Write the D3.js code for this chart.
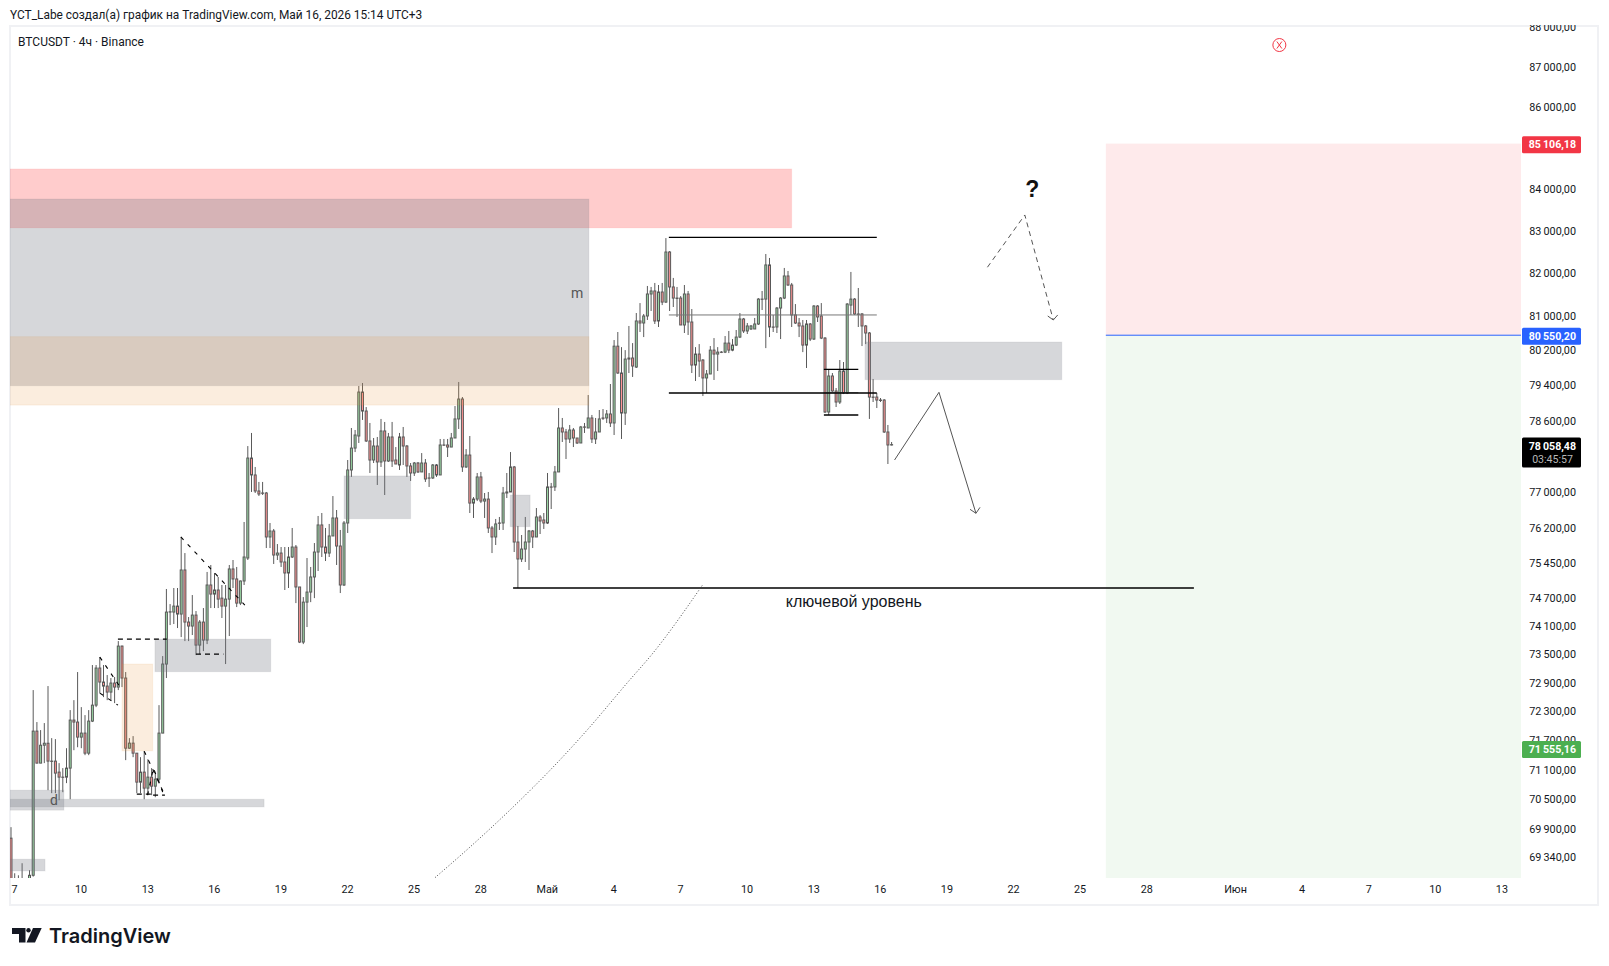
<!DOCTYPE html>
<html lang="ru">

<head>
    <meta charset="UTF-8">
    <title>BTCUSDT 4h</title>
    <script type="text/javascript" src="https://d3js.org/d3.v7.min.js"></script>
</head>
<style>
    html, body { margin: 0; background: #fff; }
    svg { display: block; }
    text { font-family: Roboto, sans-serif; fill: #131722; }
    .wick { stroke: #5a5a5a; stroke-width: 1px; }
    .body { stroke: #585858; stroke-width: 1px; }
    .up { fill: #9ad6a4; }
    .down { fill: #ff9494; }
    .zone-red { fill: rgba(255, 0, 0, .2); stroke: rgba(255, 0, 0, .06); }
    .zone-gray { fill: rgba(120, 123, 134, .3); stroke: rgba(120, 123, 134, .12); }
    .zone-beige { fill: rgba(230, 150, 60, .17); stroke: rgba(230, 150, 60, .1); }
    .solid { fill: none; stroke: #000; stroke-width: 1.3px; }
    .thin { fill: none; stroke: #777; stroke-width: 1px; }
    .dashed { fill: none; stroke: #000; stroke-width: 1.2px; stroke-dasharray: 5 4; }
    .dashed-slope { fill: none; stroke: #000; stroke-width: 1.1px; stroke-dasharray: 4 6; }
    .arrow { fill: none; stroke: #555; stroke-width: 1px; }
    .arrow-dash { fill: none; stroke: #555; stroke-width: 1px; stroke-dasharray: 5 4; }
    .dotted { fill: none; stroke: #444; stroke-width: 1px; stroke-dasharray: 1 2; }
    .axis text { font-size: 10.8px; }
    .axis path, .axis line { display: none; }
</style>
<body>
    <div id="container"></div>
    <script>
        // DATA SECTION
        // one candle every 4h, bar 0 is the first one on the left edge
        const opens = [
            69716,68780,68580,68620,68800,68700,68977,71893,71235,71602,
            71643,71276,71276,71051,70949,70949,71133,72121,72080,71769,
            71852,71439,72100,72431,73207,72913,72829,72703,72892,72808,
            73670,72997,71541,71645,71439,70847,71051,70725,70949,70765,
            70908,71852,73291,74393,74393,74521,74351,75298,74180,74095,
            74329,73691,74180,73797,74974,74779,74866,74692,74521,74671,
            75320,75104,74585,75060,75557,77758,77381,77026,76981,76981,
            76015,76146,75622,75665,75471,75233,75579,75796,74931,73755,
            74606,74822,75147,75687,76278,75796,75665,76037,76431,75818,
            74974,76321,77492,77981,78252,79246,78815,78140,77714,78027,
            77670,78365,77692,78230,77714,77603,78230,78027,77581,77425,
            77647,77448,77647,77314,77314,77603,77381,78050,78050,78004,
            78207,78636,79087,77559,77825,76759,76847,77337,76803,76847,
            76212,76015,76321,76321,76981,77004,77559,75905,75536,75752,
            75905,76146,76015,76453,76387,76321,77115,77115,77448,78432,
            78342,78185,78387,78207,78095,78455,78432,78658,78185,78342,
            78658,78658,78748,78545,80297,79680,78770,80024,80024,79817,
            80880,80833,80996,81509,81580,80880,81556,81320,82498,81674,
            81414,81414,80787,81509,80856,79863,80115,79978,79567,79658,
            80206,80115,80160,80160,80368,80206,80322,80507,80926,80648,
            80694,80694,80810,81390,81390,82192,80740,80740,81181,81414,
            81932,81720,81020,80833,80764,80322,80810,80461,81228,80996,
            80484,78793,79612,79270,79019,79726,79224,81250,81390,81043,
            81043,80764,80601,79132,79132,79064,79064,78342,78050];
        const highs = [
            69937,69017,68977,69216,68878,69077,72745,72080,71914,72059,
            72829,71748,71728,71235,71133,71541,72328,72535,73123,72390,
            72224,72328,73270,73270,73438,73270,73060,72997,73018,73776,
            73680,73123,71748,71790,71439,71357,71480,71316,71133,71031,
            72431,73459,74888,74564,74909,74909,76015,75665,74287,74758,
            74415,74223,74479,75255,75406,75233,75147,74974,74974,75406,
            75514,75363,75070,76343,78026,78320,77559,77226,77226,77004,
            76321,76190,75861,75796,75796,75796,76212,75840,74931,74714,
            75557,75363,75883,76475,76540,76212,76300,76914,76606,76168,
            76365,77714,78432,78387,79384,79452,78905,78545,78207,78230,
            78636,78568,78320,78568,78004,78320,78455,78050,77647,77670,
            77670,77869,77736,77425,77625,77625,78185,78185,78185,78320,
            78928,79475,79133,77958,78252,76891,77425,77448,76981,77004,
            76256,76409,76453,77115,77425,77892,77581,76256,76058,76453,
            76168,76168,76650,76496,76540,77425,77204,77581,78883,78658,
            78410,78500,78432,78207,78478,78545,79178,78726,78658,78838,
            78860,78838,79429,80438,80624,80275,80206,80764,80368,81065,
            81297,81043,81697,81674,81768,81720,81768,82828,82520,81886,
            81674,81461,81720,81580,81158,80275,80345,80000,79749,80300,
            80484,80275,80183,80531,80648,80461,80671,81065,80950,80833,
            80787,80950,81414,81580,82451,82357,81020,81205,81437,82121,
            82050,81768,81274,80950,80903,80903,80833,81250,81250,81297,
            80507,79772,79680,79338,79978,79932,81297,82027,81414,81650,
            81065,80787,80624,79544,79224,79110,79087,78500,78117];
        const lows = [
            68580,68380,68400,68500,68550,68600,68950,71230,71235,71235,
            70684,70623,70623,70480,70643,70827,70500,71500,71561,71541,
            71398,71398,72080,72390,72682,72598,72535,72535,72473,72745,
            72808,71296,71530,71357,70623,70623,70500,70582,70582,70541,
            70827,71852,72997,74116,74138,74053,73861,73776,73776,73904,
            73480,73501,73564,73712,74479,74479,74479,74266,73291,73883,
            74909,74500,74543,74974,75514,77004,76981,76915,76937,75774,
            75774,75428,75514,75363,74866,74909,75557,74585,73734,73712,
            74074,74606,74692,75276,75579,75492,75579,76037,75406,74801,
            74952,76102,77337,77892,78095,78613,78117,77425,77647,77159,
            77559,76937,77670,77559,77625,77492,77603,77337,77248,77359,
            77425,77448,77226,77115,77292,77337,77381,78030,77781,78004,
            78207,78410,77448,77537,76540,76431,76803,76759,76431,76102,
            75665,75840,76168,76168,76870,77004,75687,74909,75471,75471,
            75298,75774,76015,76080,76190,76300,76628,77026,77448,78117,
            77736,78095,78004,78072,78095,78320,78432,78095,78072,78342,
            78613,78545,78455,78274,79660,78185,78500,79680,79590,79795,
            80624,80507,80903,81112,80810,80740,81250,81300,81112,81205,
            80973,80787,80601,80555,79680,79498,79590,79155,79224,79658,
            79521,79726,80138,80138,80138,80180,80300,80484,80601,80578,
            80670,80694,80787,81135,80252,80507,80624,80601,80461,81390,
            81698,80740,80810,80507,80160,79795,80415,80440,80856,80460,
            78770,78725,79250,78906,78974,79200,79200,81020,81020,80740,
            80300,80345,78636,79019,78883,79019,78320,77625,78040];
        const closes = [
            68780,68580,68620,68800,68700,68977,71893,71235,71602,71643,
            71276,71270,71031,70949,70945,71133,72121,72080,71769,71852,
            71439,72100,72431,73207,72913,72829,72703,72892,72808,73670,
            72997,71541,71645,71439,70847,71051,70725,70949,70765,70908,
            71852,73291,74393,74400,74521,74351,75298,74180,74095,74329,
            73691,74180,73797,74974,74779,74866,74671,74521,74671,75320,
            75104,74585,75060,75579,77758,77381,77026,76959,76975,76015,
            76146,75622,75665,75471,75233,75579,75796,74931,73755,74606,
            74822,75147,75687,76278,75796,75665,76037,76431,75818,74974,
            76321,77492,77981,78274,79246,78815,78140,77714,78027,77670,
            78365,77692,78230,77692,77625,78230,78027,77581,77425,77647,
            77448,77647,77292,77310,77603,77381,78050,78045,78004,78207,
            78636,79087,77559,77825,76759,76847,77337,76803,76847,76212,
            76015,76300,76315,76981,77004,77559,75905,75536,75752,75905,
            76146,76015,76453,76365,76321,77115,77110,77448,78432,78342,
            78185,78387,78207,78095,78455,78450,78658,78185,78342,78636,
            78650,78748,78545,80297,79680,78770,80000,80000,79840,80880,
            80833,80996,81509,81580,80880,81556,81320,82498,81674,81414,
            81405,80787,81509,80856,79863,80115,79955,79567,79658,80206,
            80115,80160,80155,80368,80206,80322,80507,80926,80648,80764,
            80764,80810,81390,81385,82192,80740,80735,81181,81414,81932,
            81720,81020,80833,80764,80322,80810,80461,81228,80973,80484,
            78793,79612,79270,79019,79726,79224,81274,81390,81043,81035,
            80764,80601,79132,79125,79064,79055,78342,78050,78058.48];

        // axis ticks, x ones are bar numbers (18 bars = 3 days)
        const priceTicks = [88000,87000,86000,84000,83000,82000,81000,80200,79400,78600,77000,76200,75450,74700,74100,73500,72900,72300,71700,71100,70500,69900,69340];
        const dateBars = [1,19,37,55,73,91,109,127,145,163,181,199,217,235,253,271,289,307,331,349,367,385,403];
        const dateLabels = ["7","10","13","16","19","22","25","28","Май","4","7","10","13","16","19","22","25","28","Июн","4","7","10","13"];

        // drawings: [from bar, to bar, upper price, lower price]
        const redZones = [[-1,211,84490,83070]];
        const beigeZones = [[-1,156.2,80515,78950],[30,38.3,73291,71486]];
        const grayZones = [
            [-1,156.2,83763,79391],[90,108,77359,76416],[134.9,140.3,76936,76240],
            [38.9,70.2,73818,73130],[-1,68.4,70500,70345],[-1,14.3,70684,70279],
            [-1,9.2,69296,69063],[230.8,284,80392,79528]];

        // position tool on the right
        const positionBars = [295.9, 408.1];
        const targetPrice = 85106.18;
        const entryPrice = 80550.20;
        const stopPrice = 71555.16;
        const lastPrice = 78058.48;
        const countdown = "03:45:57";

        // horizontal lines: [from bar, to bar, price]
        const blackLevels = [[177.8,234,82844],[177.8,234,79224],[135.7,319.7,74909],[219.7,229,79765],[219.7,229,78725]];
        const grayLevels = [[177.8,234,81020],[219.7,229,79230]];

        // sloped lines as [bar, price] points
        const dashedFlat = [
            [[28.9,73818],[42.1,73818]],
            [[34,70603],[38.4,70603]],
            [[38.4,70582],[41.6,70582]],
            [[50,73501],[57.4,73501]]];
        const dashedSloped = [
            [[24,73438],[29.5,72808]],
            [[24,72682],[28.9,72431]],
            [[36,71480],[41.2,70643]],
            [[36.9,70582],[38.5,71133],[41,70643]],
            [[45.9,76015],[63.2,74543]]];
        const solidArrow = [[238.8,77714],[250.8,79240],[260.8,76534]];
        const solidHead = [[259.2,76621],[260.8,76534],[261.9,76665]];
        const dashArrow = [[263.9,82138],[274,83380],[281.7,80903]];
        const dashHead = [[280.2,80996],[281.7,80903],[282.9,81020]];
        const dottedCurve = [[114.6,68930],[124,69535],[137.6,70480],[146.5,71153],[155.7,71914],[166.5,72892],[173.5,73522],[186.9,74974]];

        // 1. PREPARATION
        const width = 1609;
        const height = 966;
        const plot = { left: 10, right: 1521, top: 27, bottom: 878 };

        const svg = d3.select("div#container").append("svg")
            .attr("width", width)
            .attr("height", height)
            .attr("viewBox", "0 0 " + width + " " + height);

        svg.append("clipPath").attr("id", "plot-clip").append("rect")
            .attr("x", plot.left).attr("y", plot.top)
            .attr("width", plot.right - plot.left).attr("height", plot.bottom - plot.top);

        // SCALES (price is logarithmic)
        const xScale = d3.scaleLinear().domain([0, 238]).range([11, 11 + 238 * 3.7]);
        const yScale = d3.scaleLog().domain([69340, 87000]).range([857, 67]);

        const ruLocale = d3.formatLocale({ decimal: ",", thousands: "\u2009", grouping: [3], currency: ["", ""] });
        const priceFormat = ruLocale.format(",.2f");

        // 2. DRAWING
        // FRAME
        svg.append("rect")
            .attr("x", 10).attr("y", 26).attr("width", 1588).attr("height", 879)
            .attr("fill", "none").attr("stroke", "#f0f1f4").attr("stroke-width", 2);

        const chart = svg.append("g").attr("clip-path", "url(#plot-clip)");

        // POSITION TOOL
        chart.append("rect")
            .attr("x", xScale(positionBars[0])).attr("width", xScale(positionBars[1]) - xScale(positionBars[0]))
            .attr("y", yScale(targetPrice)).attr("height", yScale(entryPrice) - yScale(targetPrice))
            .attr("fill", "rgba(242,54,69,.105)");
        chart.append("rect")
            .attr("x", xScale(positionBars[0])).attr("width", xScale(positionBars[1]) - xScale(positionBars[0]))
            .attr("y", yScale(entryPrice)).attr("height", plot.bottom - yScale(entryPrice))
            .attr("fill", "rgba(76,175,80,.08)");
        chart.append("line")
            .attr("x1", xScale(positionBars[0])).attr("x2", xScale(positionBars[1]))
            .attr("y1", yScale(entryPrice)).attr("y2", yScale(entryPrice))
            .attr("stroke", "#2962ff").attr("stroke-width", 1);

        // CANDLES
        const candles = chart.append("g").selectAll("g")
            .data(opens.map(function (o, i) {
                return { i: i, open: o, high: highs[i], low: lows[i], close: closes[i] };
            }))
            .enter().append("g");

        candles.append("line")
            .attr("class", "wick")
            .attr("x1", function (d) { return xScale(d.i); })
            .attr("x2", function (d) { return xScale(d.i); })
            .attr("y1", function (d) { return yScale(d.high); })
            .attr("y2", function (d) { return yScale(d.low); });

        candles.append("rect")
            .attr("class", function (d) { return "body " + (d.close >= d.open ? "up" : "down"); })
            .attr("x", function (d) { return xScale(d.i) - 1; })
            .attr("width", 2)
            .attr("y", function (d) { return yScale(Math.max(d.open, d.close)); })
            .attr("height", function (d) { return Math.abs(yScale(d.open) - yScale(d.close)); });

        // ZONES
        function drawZones(zones, cls) {
            chart.append("g").selectAll("rect")
                .data(zones)
                .enter().append("rect")
                .attr("class", cls)
                .attr("x", function (d) { return xScale(d[0]); })
                .attr("width", function (d) { return xScale(d[1]) - xScale(d[0]); })
                .attr("y", function (d) { return yScale(d[2]); })
                .attr("height", function (d) { return yScale(d[3]) - yScale(d[2]); });
        }
        drawZones(redZones, "zone-red");
        drawZones(grayZones, "zone-gray");
        drawZones(beigeZones, "zone-beige");

        // LINES
        function drawLevels(levels, cls) {
            chart.append("g").selectAll("line")
                .data(levels)
                .enter().append("line")
                .attr("class", cls)
                .attr("x1", function (d) { return xScale(d[0]); })
                .attr("x2", function (d) { return xScale(d[1]); })
                .attr("y1", function (d) { return yScale(d[2]); })
                .attr("y2", function (d) { return yScale(d[2]); });
        }
        drawLevels(grayLevels, "thin");
        drawLevels(blackLevels, "solid");

        const line = d3.line()
            .x(function (d) { return xScale(d[0]); })
            .y(function (d) { return yScale(d[1]); });
        const curve = d3.line()
            .x(function (d) { return xScale(d[0]); })
            .y(function (d) { return yScale(d[1]); })
            .curve(d3.curveMonotoneX);

        dashedFlat.forEach(function (p) {
            chart.append("path").attr("class", "dashed").attr("d", line(p));
        });
        dashedSloped.forEach(function (p) {
            chart.append("path").attr("class", "dashed-slope").attr("d", line(p));
        });
        chart.append("path").attr("class", "arrow").attr("d", line(solidArrow));
        chart.append("path").attr("class", "arrow").attr("d", line(solidHead));
        chart.append("path").attr("class", "arrow-dash").attr("d", line(dashArrow));
        chart.append("path").attr("class", "arrow").attr("d", line(dashHead));
        chart.append("path").attr("class", "dotted").attr("d", curve(dottedCurve));

        // TEXT ON THE CHART
        function note(bar, price, str, size, weight, color, family) {
            chart.append("text")
                .attr("x", xScale(bar)).attr("y", yScale(price))
                .attr("text-anchor", "middle").attr("dominant-baseline", "central")
                .style("font-size", size + "px").style("font-weight", weight)
                .style("fill", color).style("font-family", family)
                .text(str);
        }
        note(153, 81533, "m", 14, 400, "#555", "Roboto");
        note(11.6, 70480, "d", 14, 400, "#555", "Roboto");
        note(227.8, 74628, "ключевой уровень", 16, 400, "#131722", "Liberation Sans");
        note(276, 84000, "?", 23, 700, "#111", "'Liberation Sans Narrow', 'Liberation Sans'");

        // red marker at the top
        const marker = svg.append("g").attr("transform", "translate(" + xScale(342.8) + "," + yScale(87551) + ")");
        marker.append("circle").attr("r", 6.5).attr("fill", "none").attr("stroke", "#f23645").attr("stroke-width", 1);
        marker.append("path").attr("d", "M-2.5,-3.5L2.5,3.5M2.5,-3.5L-2.5,3.5").attr("stroke", "#f23645").attr("fill", "none");

        // AXES
        const yaxis = d3.axisRight(yScale)
            .tickValues(priceTicks)
            .tickFormat(priceFormat)
            .tickSize(0)
            .tickPadding(0);
        const yGroup = svg.append("g")
            .attr("class", "axis")
            .attr("transform", "translate(1576,0)")
            .call(yaxis);
        yGroup.selectAll("text").attr("text-anchor", "end").attr("x", 0);

        // the 88 000 label is cut by the top of the frame
        svg.append("rect").attr("x", 1522).attr("y", 0).attr("width", 80).attr("height", 25).attr("fill", "#fff");

        const xaxis = d3.axisBottom(xScale)
            .tickValues(dateBars)
            .tickFormat(function (d, i) { return dateLabels[i]; })
            .tickSize(0)
            .tickPadding(7);
        svg.append("g")
            .attr("class", "axis")
            .attr("transform", "translate(-0.7," + plot.bottom + ")")
            .call(xaxis);

        // PRICE LABELS
        function priceLabel(price, color, shift) {
            const y = yScale(price) + shift;
            svg.append("rect")
                .attr("x", 1522).attr("y", y - 8.5).attr("width", 59).attr("height", 17)
                .attr("rx", 1.5).attr("fill", color);
            svg.append("text")
                .attr("x", 1576).attr("y", y)
                .attr("text-anchor", "end").attr("dominant-baseline", "central")
                .style("font-size", "10.6px").style("font-weight", 700).style("fill", "#fff")
                .text(priceFormat(price));
        }
        priceLabel(targetPrice, "#f23645", 1);
        priceLabel(entryPrice, "#2962ff", 1);
        priceLabel(stopPrice, "#4caf50", 2);

        const lastY = yScale(lastPrice);
        svg.append("rect")
            .attr("x", 1522).attr("y", lastY - 7).attr("width", 59).attr("height", 30)
            .attr("rx", 1.5).attr("fill", "#000");
        svg.append("text")
            .attr("x", 1576).attr("y", lastY + 2)
            .attr("text-anchor", "end").attr("dominant-baseline", "central")
            .style("font-size", "10.6px").style("font-weight", 700).style("fill", "#fff")
            .text(priceFormat(lastPrice));
        svg.append("text")
            .attr("x", 1573).attr("y", lastY + 15)
            .attr("text-anchor", "end").attr("dominant-baseline", "central")
            .style("font-size", "10.6px").style("fill", "#b8b8b8")
            .text(countdown);

        // HEADER
        svg.append("text")
            .attr("x", 10).attr("y", 15).attr("dominant-baseline", "central")
            .style("font-size", "11.9px")
            .text("YCT_Labe создал(а) график на TradingView.com, Май 16, 2026 15:14 UTC+3");
        svg.append("text")
            .attr("x", 18).attr("y", 42).attr("dominant-baseline", "central")
            .style("font-size", "12px")
            .text("BTCUSDT · 4ч · Binance");

        // LOGO
        const logo = svg.append("g").attr("transform", "translate(12,928)").attr("fill", "#131722");
        logo.append("path").attr("d", "M0,0H13.5V14.5H7V6H0Z");
        logo.append("circle").attr("cx", 16.5).attr("cy", 2.2).attr("r", 2.2);
        logo.append("path").attr("d", "M21,0H29.7L23,14.5H14.5Z");
        svg.append("text")
            .attr("x", 49).attr("y", 936).attr("dominant-baseline", "central")
            .style("font-family", "Inter").style("font-size", "20px").style("font-weight", 600)
            .text("TradingView");
    </script>
</body>

</html>
